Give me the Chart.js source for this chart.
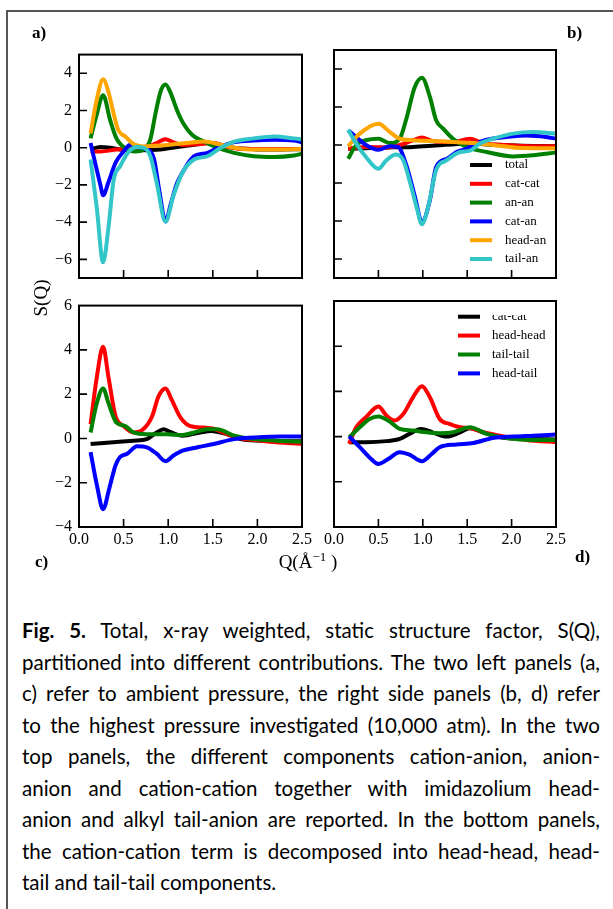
<!DOCTYPE html>
<html><head><meta charset="utf-8">
<script src="https://cdn.jsdelivr.net/npm/chart.js@4.4.1/dist/chart.umd.min.js"></script>
<style>
html,body{margin:0;padding:0;background:#fff;}
body{width:613px;height:909px;position:relative;overflow:hidden;}
#frame{position:absolute;left:6px;top:10px;width:700px;height:1000px;border-left:2px solid #555;border-top:2px solid #555;box-sizing:border-box;}
canvas.pc{position:absolute;}
.lbl{position:absolute;font-family:"Liberation Serif","Times New Roman",serif;color:#000;line-height:18px;white-space:nowrap;}
.pl{font-weight:bold;font-size:17px;}
#sq{font-size:19px;left:41px;top:298px;transform:translate(-50%,-50%) rotate(-90deg);}
#ql{font-size:19px;left:308px;top:562px;transform:translate(-50%,-50%);line-height:22px;}
#ql sup{font-size:13px;vertical-align:7px;line-height:0;}
#cap{position:absolute;left:22px;top:615px;width:578px;font-family:Lato,"Open Sans",sans-serif;font-size:20.5px;line-height:31.5px;color:#000;}
#cap div{text-align:justify;text-align-last:justify;white-space:nowrap;}
#cap div.last{text-align-last:left;}
</style></head>
<body>
<div id="frame"></div>
<canvas id="ca" class="pc"></canvas>
<canvas id="cb" class="pc"></canvas>
<canvas id="cc" class="pc"></canvas>
<canvas id="cd" class="pc"></canvas>
<div class="lbl pl" style="left:32px;top:24px;">a)</div>
<div class="lbl pl" style="left:567px;top:24px;">b)</div>
<div class="lbl pl" style="left:35px;top:553px;">c)</div>
<div class="lbl pl" style="left:575px;top:548px;">d)</div>
<div class="lbl" id="sq">S(Q)</div>
<div class="lbl" id="ql">Q(Å<sup>−1</sup> )</div>
<div id="cap">
<div><b>Fig. 5.</b> Total, x-ray weighted, static structure factor, S(Q),</div>
<div>partitioned into different contributions. The two left panels (a,</div>
<div>c) refer to ambient pressure, the right side panels (b, d) refer</div>
<div>to the highest pressure investigated (10,000 atm). In the two</div>
<div>top panels, the different components cation-anion, anion-</div>
<div>anion and cation-cation together with imidazolium head-</div>
<div>anion and alkyl tail-anion are reported. In the bottom panels,</div>
<div>the cation-cation term is decomposed into head-head, head-</div>
<div class="last">tail and tail-tail components.</div>
</div>
<script>
// ---------- tick values ----------
const xTicks = [0.0, 0.5, 1.0, 1.5, 2.0, 2.5];
const yTicksTop = [-6, -4, -2, 0, 2, 4];
const yTicksBottom = [-4, -2, 0, 2, 4, 6];
const yRangeTop = [-7, 5];
const yRangeBottom = [-4, 6];

// ---------- legend labels ----------
const topLabels = ["total", "cat-cat", "an-an", "cat-an", "head-an", "tail-an"];
const bottomLabels = ["cat-cat", "head-head", "tail-tail", "head-tail"];

// ---------- panel a (ambient) ----------
const aTotalQ = [0.13,0.24,0.35,0.54,0.72,0.91,1.10,1.29,1.44,1.59,1.74,1.96,2.19,2.50];
const aTotalS = [-0.10,0.04,0.00,-0.14,-0.14,-0.10,0.04,0.15,0.25,0.16,0.00,-0.08,-0.10,-0.08];
const aCatcatQ = [0.13,0.24,0.42,0.61,0.76,0.87,0.97,1.06,1.17,1.36,1.51,1.66,1.89,2.11,2.50];
const aCatcatS = [-0.20,-0.20,-0.10,-0.03,0.03,0.25,0.45,0.28,0.15,0.20,0.25,0.03,-0.07,-0.07,-0.07];
const aAnanQ = [0.13,0.20,0.27,0.35,0.42,0.54,0.63,0.72,0.80,0.86,0.92,0.97,1.03,1.10,1.17,1.27,1.40,1.55,1.74,1.96,2.19,2.41,2.50];
const aAnanS = [0.50,1.80,2.82,1.47,0.50,-0.10,-0.20,-0.10,0.45,1.90,3.10,3.40,2.90,2.00,1.30,0.68,0.33,0.00,-0.28,-0.46,-0.50,-0.42,-0.33];
const aCatanQ = [0.13,0.18,0.24,0.27,0.33,0.41,0.50,0.57,0.65,0.76,0.84,0.90,0.97,1.03,1.10,1.16,1.29,1.44,1.59,1.74,1.96,2.19,2.41,2.50];
const aCatanS = [0.25,-0.80,-2.00,-2.56,-1.86,-0.80,-0.20,0.15,0.04,-0.07,-0.60,-2.30,-3.96,-3.00,-1.90,-1.33,-0.46,-0.28,0.07,0.30,0.39,0.42,0.39,0.28];
const aHeadanQ = [0.13,0.20,0.27,0.33,0.37,0.44,0.52,0.61,0.72,0.84,0.99,1.21,1.40,1.59,1.74,1.96,2.19,2.50];
const aHeadanS = [0.77,2.60,3.67,3.00,2.20,0.95,0.60,0.20,0.07,0.10,0.15,0.25,0.33,0.16,0.00,-0.10,-0.10,-0.07];
const aTailanQ = [0.13,0.20,0.27,0.33,0.39,0.46,0.56,0.65,0.72,0.80,0.87,0.97,1.06,1.16,1.29,1.44,1.59,1.74,1.96,2.19,2.41,2.50];
const aTailanS = [-0.63,-3.26,-6.16,-4.30,-1.70,-1.00,-0.20,0.03,0.00,-0.46,-1.86,-3.96,-2.56,-1.33,-0.63,-0.46,0.00,0.33,0.50,0.60,0.50,0.45];

// ---------- panel b (10,000 atm) ----------
const bTotalQ = [0.16,0.50,0.89,1.14,1.49,1.72,2.05,2.50];
const bTotalS = [-0.20,-0.14,-0.10,-0.03,0.07,0.03,-0.03,-0.07];
const bCatcatQ = [0.16,0.36,0.59,0.74,0.89,0.99,1.11,1.34,1.53,1.68,1.94,2.24,2.50];
const bCatcatS = [-0.20,-0.10,-0.14,0.00,0.25,0.39,0.21,0.16,0.33,0.10,0.00,-0.07,-0.07];
const bAnanQ = [0.16,0.25,0.36,0.50,0.63,0.74,0.81,0.91,0.99,1.08,1.15,1.23,1.34,1.49,1.72,2.02,2.24,2.50];
const bAnanS = [-0.72,0.00,0.25,0.33,0.10,0.33,1.30,3.05,3.54,2.53,1.30,0.86,0.33,-0.10,-0.37,-0.60,-0.54,-0.40];
const bCatanQ = [0.16,0.25,0.36,0.50,0.63,0.72,0.81,0.91,0.99,1.08,1.15,1.27,1.38,1.49,1.60,1.72,1.94,2.17,2.39,2.50];
const bCatanS = [0.77,0.42,0.00,-0.25,-0.07,-0.10,-1.00,-2.70,-4.05,-2.90,-1.16,-0.72,-0.37,-0.20,0.07,0.28,0.42,0.50,0.42,0.33];
const bHeadanQ = [0.16,0.29,0.50,0.63,0.74,0.89,1.11,1.34,1.57,1.79,2.05,2.50];
const bHeadanS = [-0.07,0.60,1.12,0.68,0.33,0.25,0.21,0.16,0.10,0.00,-0.14,-0.17];
const bTailanQ = [0.16,0.25,0.36,0.50,0.59,0.70,0.78,0.85,0.93,0.99,1.06,1.15,1.27,1.42,1.53,1.64,1.79,2.02,2.24,2.50];
const bTailanS = [0.80,0.07,-0.63,-1.25,-0.80,-0.50,-0.80,-1.86,-3.26,-4.17,-3.26,-1.33,-0.80,-0.37,-0.30,0.07,0.33,0.60,0.68,0.60];

// ---------- panel c (ambient, cation-cation decomposition) ----------
const cCatcatQ = [0.13,0.35,0.61,0.76,0.87,0.95,1.02,1.16,1.36,1.48,1.66,1.81,2.04,2.50];
const cCatcatS = [-0.25,-0.18,-0.10,-0.03,0.27,0.41,0.30,0.12,0.27,0.34,0.19,-0.03,-0.10,-0.13];
const cHeadheadQ = [0.13,0.20,0.27,0.33,0.41,0.50,0.61,0.72,0.82,0.89,0.97,1.04,1.14,1.25,1.40,1.51,1.66,1.81,2.04,2.30,2.50];
const cHeadheadS = [0.64,2.78,4.14,2.78,1.00,0.56,0.27,0.41,1.00,1.89,2.26,1.74,0.93,0.56,0.49,0.44,0.19,0.01,-0.10,-0.20,-0.25];
const cTailtailQ = [0.13,0.20,0.27,0.33,0.42,0.52,0.61,0.76,0.99,1.14,1.29,1.44,1.55,1.74,1.96,2.22,2.50];
const cTailtailS = [0.27,1.60,2.26,1.60,0.71,0.56,0.27,0.19,0.19,0.15,0.27,0.41,0.41,0.12,-0.03,-0.10,-0.15];
const cHeadtailQ = [0.13,0.20,0.27,0.34,0.41,0.46,0.54,0.65,0.76,0.87,0.97,1.06,1.16,1.33,1.51,1.74,1.96,2.26,2.50];
const cHeadtailS = [-0.62,-2.10,-3.20,-2.25,-1.21,-0.84,-0.69,-0.35,-0.40,-0.69,-1.03,-0.77,-0.55,-0.40,-0.25,-0.03,0.04,0.09,0.09];

// ---------- panel d (10,000 atm, cation-cation decomposition) ----------
const dCatcatQ = [0.17,0.36,0.59,0.74,0.85,0.98,1.11,1.27,1.42,1.53,1.68,1.87,2.17,2.50];
const dCatcatS = [-0.25,-0.25,-0.20,-0.10,0.12,0.34,0.19,0.00,0.19,0.37,0.19,-0.03,-0.10,-0.13];
const dHeadheadQ = [0.17,0.25,0.36,0.50,0.59,0.68,0.78,0.89,0.99,1.08,1.19,1.30,1.42,1.53,1.68,1.87,2.17,2.50];
const dHeadheadS = [-0.32,0.41,0.86,1.33,0.93,0.71,1.00,1.74,2.23,1.74,0.78,0.56,0.41,0.38,0.19,0.04,-0.15,-0.25];
const dTailtailQ = [0.17,0.29,0.40,0.50,0.61,0.74,0.89,1.04,1.19,1.34,1.53,1.72,1.94,2.24,2.50];
const dTailtailS = [-0.03,0.41,0.78,0.89,0.71,0.34,0.27,0.19,0.15,0.19,0.41,0.12,-0.06,-0.15,-0.15];
const dHeadtailQ = [0.17,0.29,0.40,0.50,0.61,0.74,0.85,0.99,1.10,1.19,1.38,1.57,1.79,2.02,2.24,2.50];
const dHeadtailS = [0.01,-0.47,-0.92,-1.21,-0.99,-0.69,-0.80,-1.09,-0.77,-0.47,-0.35,-0.28,-0.06,0.00,0.04,0.09];

// ---------- styling ----------
const topColors = ['#000000','#ff0000','#008000','#0000ff','#ffa500','#33c6c9'];
const bottomColors = ['#000000','#ff0000','#008000','#0000ff'];
const SERIF = '"Liberation Serif","Times New Roman",serif';

function fmtTick(v){ return v < 0 ? '\u2212' + Math.abs(v) : String(v); }

function makeDatasets(labels, colors, qs, ss){
  const n = labels.length;
  return labels.map((lab, i) => ({
    label: lab,
    data: qs[i].map((q, k) => ({x: q, y: ss[i][k]})),
    borderColor: colors[i],
    backgroundColor: colors[i],
    borderWidth: 4,
    pointRadius: 0,
    fill: false,
    cubicInterpolationMode: 'monotone',
    order: n - 1 - i
  }));
}

const framePlugin = {
  id: 'frameTicks',
  afterDatasetsDraw(chart, args, o){
    const {ctx, chartArea: a, scales} = chart;
    const x = scales.x, y = scales.y;
    ctx.save();
    ctx.strokeStyle = '#000';
    ctx.lineWidth = 1.6;
    ctx.beginPath();
    o.xt.forEach(v => { if (v > x.min && v < x.max) { const px = x.getPixelForValue(v); ctx.moveTo(px, a.bottom); ctx.lineTo(px, a.bottom - 8); } });
    o.yt.forEach(v => { if (v > y.min && v < y.max) { const py = y.getPixelForValue(v); ctx.moveTo(a.left, py); ctx.lineTo(a.left + 8, py); } });
    ctx.stroke();
    ctx.lineWidth = 2;
    ctx.strokeRect(a.left, a.top, a.right - a.left, a.bottom - a.top);
    if (o.legend) {
      const L = o.legend;
      ctx.font = '13px ' + SERIF;
      ctx.textBaseline = 'middle';
      ctx.textAlign = 'left';
      chart.data.datasets.forEach((ds, i) => {
        const yy = a.top + L.y0 + i * L.dy;
        ctx.strokeStyle = ds.borderColor;
        ctx.lineWidth = 4;
        ctx.beginPath();
        ctx.moveTo(a.left + L.x1, yy);
        ctx.lineTo(a.left + L.x2, yy);
        ctx.stroke();
        ctx.save();
        if (L.clipTop !== undefined && i === 0) {
          ctx.beginPath();
          ctx.rect(a.left, a.top + L.clipTop, a.right - a.left, a.bottom - a.top);
          ctx.clip();
        }
        ctx.fillStyle = '#000';
        ctx.fillText(ds.label, a.left + L.tx, yy);
        ctx.restore();
      });
    }
    ctx.restore();
  }
};

function makePanel(id, box, cfg){
  const padL = 60, padT = 12, padR = 16, padB = 26;
  const cv = document.getElementById(id);
  const w = box.r - box.l + padL + padR, h = box.b - box.t + padT + padB;
  cv.width = w; cv.height = h;
  cv.style.left = (box.l - padL) + 'px';
  cv.style.top = (box.t - padT) + 'px';
  cv.style.width = w + 'px'; cv.style.height = h + 'px';
  return new Chart(cv, {
    type: 'line',
    data: {datasets: cfg.datasets},
    options: {
      responsive: false,
      animation: false,
      devicePixelRatio: 1,
      layout: {padding: {left: 0, top: padT, right: padR, bottom: 0}},
      plugins: {legend: {display: false}, tooltip: {enabled: false}, frameTicks: {xt: xTicks, yt: cfg.yTicks, legend: cfg.legend}},
      scales: {
        x: {
          type: 'linear', min: 0, max: 2.5,
          grid: {display: false, drawTicks: false},
          border: {display: false},
          afterFit: s => { s.height = padB; },
          afterBuildTicks: s => { s.ticks = xTicks.map(v => ({value: v})); },
          ticks: {display: cfg.xLabels, padding: 3, color: '#000', font: {family: SERIF, size: 16}, maxRotation: 0, autoSkip: false,
                  callback: v => v.toFixed(1)}
        },
        y: {
          type: 'linear', min: cfg.yRange[0], max: cfg.yRange[1],
          grid: {display: false, drawTicks: false},
          border: {display: false},
          afterFit: s => { s.width = padL; },
          afterBuildTicks: s => { s.ticks = cfg.yTicks.map(v => ({value: v})); },
          ticks: {display: cfg.yLabels, padding: 7, color: '#000', font: {family: SERIF, size: 16}, autoSkip: false,
                  callback: v => fmtTick(v)}
        }
      }
    },
    plugins: [framePlugin]
  });
}

makePanel('ca', {l: 79, r: 302, t: 50, b: 278}, {
  datasets: makeDatasets(topLabels, topColors,
    [aTotalQ, aCatcatQ, aAnanQ, aCatanQ, aHeadanQ, aTailanQ],
    [aTotalS, aCatcatS, aAnanS, aCatanS, aHeadanS, aTailanS]),
  yRange: yRangeTop, yTicks: yTicksTop, xLabels: false, yLabels: true
});
makePanel('cb', {l: 334, r: 556, t: 50, b: 278}, {
  datasets: makeDatasets(topLabels, topColors,
    [bTotalQ, bCatcatQ, bAnanQ, bCatanQ, bHeadanQ, bTailanQ],
    [bTotalS, bCatcatS, bAnanS, bCatanS, bHeadanS, bTailanS]),
  yRange: yRangeTop, yTicks: yTicksTop, xLabels: false, yLabels: false,
  legend: {x1: 136, x2: 158, tx: 171, y0: 115, dy: 18.8}
});
makePanel('cc', {l: 79, r: 302, t: 301, b: 527}, {
  datasets: makeDatasets(bottomLabels, bottomColors,
    [cCatcatQ, cHeadheadQ, cTailtailQ, cHeadtailQ],
    [cCatcatS, cHeadheadS, cTailtailS, cHeadtailS]),
  yRange: yRangeBottom, yTicks: yTicksBottom, xLabels: true, yLabels: true
});
makePanel('cd', {l: 334, r: 556, t: 301, b: 527}, {
  datasets: makeDatasets(bottomLabels, bottomColors,
    [dCatcatQ, dHeadheadQ, dTailtailQ, dHeadtailQ],
    [dCatcatS, dHeadheadS, dTailtailS, dHeadtailS]),
  yRange: yRangeBottom, yTicks: yTicksBottom, xLabels: true, yLabels: false,
  legend: {x1: 124, x2: 146, tx: 158, y0: 15.7, dy: 18.9, clipTop: 14}
});
</script>
</body></html>
